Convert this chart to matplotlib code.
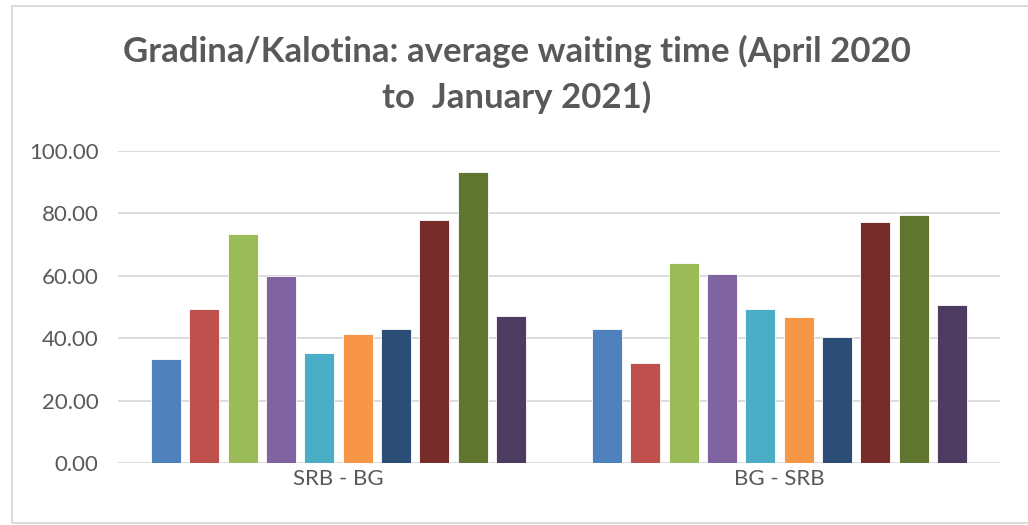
import numpy as np
import matplotlib
matplotlib.use("Agg")
from matplotlib import pyplot as plt
from matplotlib.patches import Rectangle

plt.rcParams["font.family"] = ["Lato", "DejaVu Sans"]

categories = ["SRB - BG", "BG - SRB"]
months = ["Apr 2020", "May 2020", "Jun 2020", "Jul 2020", "Aug 2020",
          "Sep 2020", "Oct 2020", "Nov 2020", "Dec 2020", "Jan 2021"]
srb_bg = [33.4, 49.3, 73.4, 59.9, 35.1, 41.4, 42.8, 77.8, 93.2, 47.0]
bg_srb = [43.0, 32.2, 64.1, 60.5, 49.3, 46.7, 40.5, 77.1, 79.4, 50.6]
colors = ["#4F81BD", "#C0504D", "#9BBB59", "#8064A2", "#4BACC6",
          "#F79646", "#2C4D75", "#772C2A", "#5F7530", "#4D3B62"]

grey = "#595959"

fig = plt.figure(figsize=(10.28, 5.25), dpi=100)
ax = fig.add_axes([0.1148, 0.1181, 0.858, 0.5943])

x = np.arange(len(categories))
pitch = 0.0869
for i, m in enumerate(months):
    vals = [srb_bg[i], bg_srb[i]]
    ax.bar(x + (i - 4.5) * pitch, vals, width=0.068, color=colors[i],
           edgecolor="white", linewidth=0.6, label=m, zorder=3)

ax.set_xlim(-0.5, 1.5)
ax.set_ylim(0, 100)
ax.set_yticks(np.arange(0, 101, 20))
ax.set_yticklabels([f"{v:.2f}" for v in np.arange(0, 101, 20)])
ax.set_xticks(x)
ax.set_xticklabels(categories)
ax.tick_params(axis="both", length=0, labelsize=16, colors=grey)
ax.tick_params(axis="y", pad=14)
ax.tick_params(axis="x", pad=4)
ax.grid(axis="y", color="#D9D9D9", linewidth=1.3, zorder=0)
for s in ax.spines.values():
    s.set_visible(False)

fig.text(0.503, 0.858, "Gradina/Kalotina: average waiting time (April 2020\nto  January 2021)",
         ha="center", va="center", fontsize=25, fontweight="bold", color=grey,
         linespacing=1.45)

fig.patches.append(Rectangle((12 / 1028, 2 / 525), 1.1, 517 / 525, transform=fig.transFigure,
                             fill=False, edgecolor="#D9D9D9", linewidth=1.3))

fig.savefig("out.png", dpi=100)
